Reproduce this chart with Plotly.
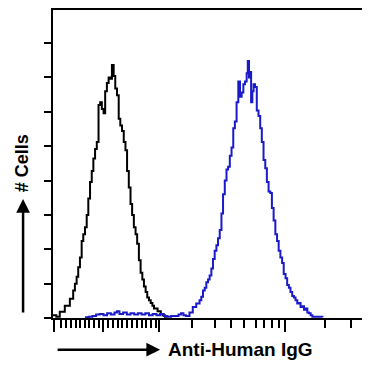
import plotly.graph_objects as go

# Histogram channels (256-channel display scale) and cell counts
isotype_channel = [0, 2.7, 5.5, 9.6, 13.7, 16.4, 17.8, 19.2, 20.5, 21.9, 23.3, 24.6, 26, 27.4, 28.7,
                   30.1, 31.5, 32.8, 34.2, 35.6, 37, 38.3, 39.7, 41.1, 42.4, 43.8, 45.2, 46.5, 47.9,
                   49.3, 50.6, 52, 53.4, 54.7, 56.1, 57.5, 58.9, 60.2, 61.6, 63, 64.3, 65.7, 67.1,
                   68.4, 69.8, 71.2, 72.6, 73.9, 75.3, 76.6, 78, 79.4, 80.8, 82.1, 85, 87.6, 89, 91, 93]
isotype_count = [2, 1, 4.5, 9, 14, 20, 25, 30, 37, 44, 56, 61, 66, 75, 87,
                 99, 107, 116, 123, 128, 155, 157, 152, 149, 165, 171, 175, 174, 184,
                 176, 167, 162, 145, 140, 136, 128, 122, 107, 95, 83, 75, 66, 61,
                 54, 42, 33, 28, 23, 19, 15, 13, 11, 9, 7, 5, 3, 2, 1, 0.5]

antibody_channel = [26, 29, 32, 35, 38, 41, 44, 47, 50, 52, 54, 57, 60, 63, 66, 69, 72, 75, 78, 81,
                    84, 87, 90, 93, 96, 99, 102, 104, 106, 108, 110.9, 113.6, 116.4, 119.1, 120.5,
                    121.9, 123.3, 124.6, 126, 127.3, 128.7, 130, 131.4, 132.8, 134.1, 135.5, 136.9,
                    138.2, 139.6, 141, 142.3, 143.7, 145.1, 146.5, 147.8, 149.2, 150.6, 152, 153.3,
                    154.7, 156, 157.4, 158.3, 159.3, 160.1, 161, 162, 163, 164.2, 165.6, 167, 168.4,
                    169.7, 171.1, 172.5, 173.8, 175.2, 176.6, 177.9, 179.3, 180.7, 182.1, 183.4,
                    184.8, 186.2, 187.5, 189, 190.3, 191.7, 193, 194.4, 195.8, 197.1, 198.5, 199.8,
                    201.2, 202.6, 204, 205.3, 206.7, 208, 209.4, 210.8, 213, 216, 219]
antibody_count = [0.5, 1, 1.5, 2.5, 3, 2, 3.5, 2.5, 4, 5, 3, 4, 2.5, 3.5, 2.5, 3.5, 2.5, 3.5, 2, 3,
                  2, 3, 1.5, 1, 1.5, 1.5, 2.5, 3.5, 2, 1.5, 4, 8, 10.5, 13, 15.5,
                  20, 22, 26, 28, 31, 36, 43, 49, 53, 58, 64, 76,
                  90, 100, 108, 110, 118, 124, 138, 143, 157, 172, 161, 164,
                  170, 172, 178, 187, 175, 179, 157, 165, 170, 168, 151, 147, 138,
                  128, 115, 109, 99, 92, 91, 80, 71, 61, 56, 49,
                  44, 40, 32, 29, 24, 22, 19, 16, 15, 13, 10.5, 11,
                  8, 8.5, 6, 7, 4, 3.5, 2, 1, 1, 1, 0.5]

# Axis ticks (display channels); no labels in the original
x_major_ticks = [1.1, 40.8, 86.2, 188.2, 256]
x_minor_ticks = [6.6, 10.7, 14.8, 18.4, 22.2, 25.8, 29.3, 33.4, 37.3, 44.9, 49, 52.6, 56.4,
                 60.3, 64.1, 68.2, 72.3, 75.9, 79.7, 83.3, 113.1, 131.4, 144.3, 155.6, 164.8,
                 171.6, 178, 183.5, 221.3, 241.8, 253.5]
y_ticks = [0, 25, 50, 75, 100, 125, 150, 175, 200]

x_title = "Anti-Human IgG"
y_title = "# Cells"

fig = go.Figure()
fig.add_trace(go.Scatter(x=isotype_channel, y=isotype_count, mode="lines",
                         line=dict(color="black", width=2, shape="hv"), showlegend=False))
fig.add_trace(go.Scatter(x=antibody_channel, y=antibody_count, mode="lines",
                         line=dict(color="#1a1ac8", width=2, shape="hv"), showlegend=False))

fig.update_layout(
    width=370, height=377,
    margin=dict(l=45, r=10, t=0, b=67),
    plot_bgcolor="white", paper_bgcolor="white",
    font=dict(family="Liberation Sans, Arial, sans-serif", color="black"),
)
fig.update_xaxes(range=[0, 256], showline=True, linecolor="black", linewidth=2, mirror=True,
                 ticks="outside", tickmode="array", tickvals=x_major_ticks, ticklen=12,
                 tickwidth=1.5, tickcolor="black", showticklabels=False, showgrid=False,
                 zeroline=False,
                 minor=dict(tickmode="array", tickvals=x_minor_ticks, ticks="outside",
                            ticklen=8, tickwidth=1.5, tickcolor="black", showgrid=False))
fig.update_yaxes(range=[0, 224], showline=True, linecolor="black", linewidth=2, mirror=True,
                 ticks="outside", tickmode="array", tickvals=y_ticks, ticklen=7,
                 tickwidth=1.5, tickcolor="black", showticklabels=False, showgrid=False,
                 zeroline=False)

# Axis titles with arrows
fig.add_annotation(xref="paper", yref="paper", x=0.36, y=-0.103, text="<b>%s</b>" % x_title,
                   showarrow=False, xanchor="left", yanchor="middle",
                   font=dict(size=19, color="black"))
fig.add_annotation(xref="paper", yref="paper", x=0.34, y=-0.103, text="",
                   showarrow=True, ax=-104, ay=0, arrowhead=2, arrowsize=1.1,
                   arrowwidth=2.5, arrowcolor="black", standoff=0)
fig.add_annotation(xref="paper", yref="paper", x=-0.098, y=0.503, text="<b>%s</b>" % y_title,
                   showarrow=False, textangle=-90, xanchor="center", yanchor="middle",
                   font=dict(size=18, color="black"))
fig.add_annotation(xref="paper", yref="paper", x=-0.095, y=0.386, text="",
                   showarrow=True, ax=0, ay=115, arrowhead=2, arrowsize=1.1,
                   arrowwidth=2.5, arrowcolor="black", standoff=0)

fig.write_html("out.html")
